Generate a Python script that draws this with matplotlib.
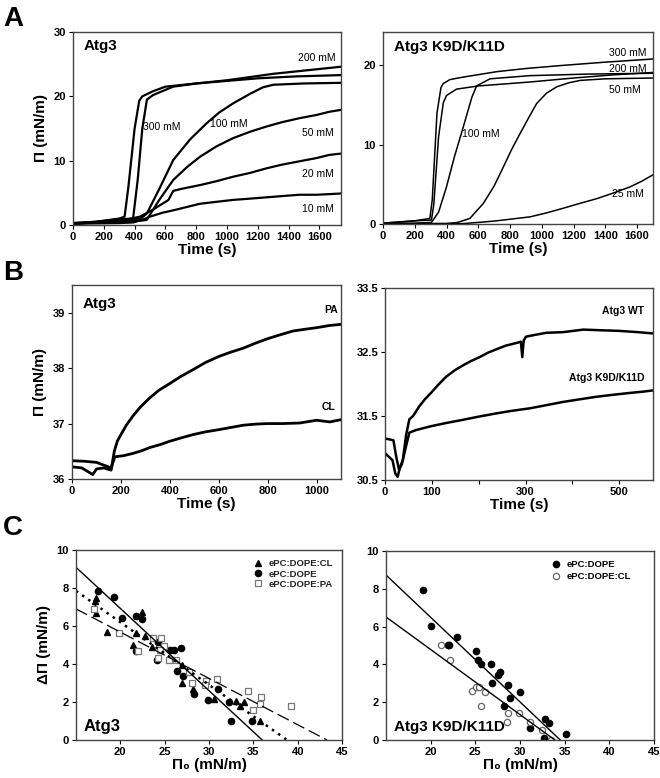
import numpy as np
import matplotlib
matplotlib.use("Agg")
import matplotlib.pyplot as plt

plt.rcParams['font.family'] = ['Liberation Sans', 'DejaVu Sans']
plt.rcParams['font.weight'] = 'bold'
plt.rcParams['axes.labelweight'] = 'bold'
plt.rcParams['axes.edgecolor'] = '#333333'
plt.rcParams['axes.linewidth'] = 1.0
plt.rcParams['xtick.labelsize'] = 8
plt.rcParams['ytick.labelsize'] = 8
plt.rcParams['xtick.major.size'] = 3
plt.rcParams['ytick.major.size'] = 3

# ---------------- Panel A (left): Atg3 ----------------
a1_300_t = [0, 150, 300, 335, 360, 400, 430, 450, 520, 600, 800, 1000, 1200, 1450, 1740]
a1_300_y = [0.3, 0.5, 1.0, 1.3, 6.0, 15.0, 19.3, 20.0, 20.8, 21.5, 22.0, 22.4, 22.8, 23.1, 23.3]
a1_200_t = [0, 150, 300, 390, 420, 450, 480, 520, 650, 800, 1000, 1300, 1500, 1740]
a1_200_y = [0.3, 0.5, 0.9, 1.0, 7.0, 15.0, 19.5, 20.2, 21.5, 22.0, 22.5, 23.5, 24.0, 24.6]
a1_100_t = [0, 300, 440, 480, 560, 651, 760, 867, 950, 1039, 1150, 1233, 1300, 1500, 1740]
a1_100_y = [0.2, 0.7, 1.0, 1.8, 5.6, 10.1, 13.3, 15.8, 17.5, 18.9, 20.4, 21.4, 21.8, 22.0, 22.1]
a1_50_t = [0, 300, 450, 479, 560, 651, 740, 824, 930, 1039, 1150, 1255, 1360, 1470, 1580, 1665, 1740]
a1_50_y = [0.2, 0.6, 0.7, 0.8, 3.9, 7.0, 9.0, 10.6, 12.2, 13.5, 14.5, 15.3, 16.0, 16.6, 17.1, 17.6, 17.9]
a1_20_t = [0, 300, 435, 520, 580, 620, 635, 651, 700, 824, 930, 1039, 1150, 1255, 1360, 1470, 1580, 1665, 1740]
a1_20_y = [0.2, 0.6, 1.3, 2.4, 3.3, 3.9, 4.6, 5.3, 5.6, 6.2, 6.8, 7.5, 8.1, 8.8, 9.4, 9.9, 10.4, 10.9, 11.1]
a1_10_t = [0, 300, 392, 450, 500, 580, 672, 824, 930, 1039, 1150, 1255, 1360, 1470, 1580, 1665, 1740]
a1_10_y = [0.2, 0.3, 0.4, 0.8, 1.3, 1.9, 2.4, 3.3, 3.6, 3.9, 4.1, 4.3, 4.5, 4.7, 4.7, 4.8, 4.9]

a1_labels = ["200 mM", "300 mM", "100 mM", "50 mM", "20 mM", "10 mM"]
a1_label_t = [1460, 455, 890, 1490, 1490, 1490]
a1_label_y = [26.0, 15.2, 15.7, 14.3, 7.9, 2.5]

# ---------------- Panel A (right): Atg3 K9D/K11D ----------------
a2_300_t = [0, 200, 295, 310, 340, 365, 379, 421, 500, 716, 900, 1137, 1400, 1700]
a2_300_y = [0.1, 0.4, 0.7, 3.0, 14.0, 17.2, 17.7, 18.2, 18.5, 19.2, 19.6, 20.0, 20.4, 20.8]
a2_200_t = [0, 200, 305, 320, 350, 380, 400, 463, 600, 926, 1200, 1450, 1700]
a2_200_y = [0.1, 0.4, 0.5, 2.5, 11.0, 15.3, 16.2, 17.0, 17.4, 17.9, 18.4, 18.8, 19.1]
a2_100_t = [0, 200, 305, 350, 400, 450, 505, 560, 589, 674, 800, 926, 1300, 1700]
a2_100_y = [0.05, 0.1, 0.2, 1.5, 4.7, 8.5, 12.2, 16.0, 17.4, 18.3, 18.5, 18.7, 18.9, 19.0]
a2_50_t = [0, 300, 400, 470, 547, 632, 700, 758, 810, 863, 920, 968, 1030, 1095, 1170, 1242, 1400, 1700]
a2_50_y = [0.05, 0.05, 0.05, 0.2, 0.7, 2.6, 4.8, 7.2, 9.4, 11.4, 13.5, 15.2, 16.5, 17.3, 17.8, 18.1, 18.3, 18.4]
a2_25_t = [0, 300, 505, 600, 716, 820, 926, 1030, 1137, 1240, 1347, 1450, 1558, 1630, 1700]
a2_25_y = [0.05, 0.05, 0.05, 0.2, 0.4, 0.65, 0.9, 1.4, 2.0, 2.6, 3.2, 3.9, 4.7, 5.4, 6.2]

a2_labels = ["300 mM", "200 mM", "50 mM", "100 mM", "25 mM"]
a2_label_t = [1420, 1420, 1420, 498, 1445]
a2_label_y = [21.6, 19.5, 16.9, 11.4, 3.8]

# ---------------- Panel B (left): Atg3 PA / CL ----------------
b1_pa_t = [0, 40, 70, 85, 100, 130, 160, 173, 185, 200, 222, 248, 280, 317, 355, 399, 445, 494, 545, 600, 650, 700, 750, 799, 850, 904, 950, 1000, 1054, 1100]
b1_pa_y = [36.22, 36.2, 36.12, 36.08, 36.18, 36.2, 36.16, 36.5, 36.68, 36.8, 36.97, 37.13, 37.3, 37.46, 37.6, 37.72, 37.85, 37.97, 38.1, 38.21, 38.29, 38.36, 38.45, 38.53, 38.6, 38.67, 38.7, 38.73, 38.77, 38.79]
b1_cl_t = [0, 50, 100, 160, 175, 210, 248, 285, 320, 360, 399, 445, 494, 545, 600, 650, 700, 750, 799, 860, 931, 1000, 1054, 1100]
b1_cl_y = [36.33, 36.32, 36.3, 36.2, 36.4, 36.42, 36.46, 36.51, 36.57, 36.62, 36.68, 36.74, 36.8, 36.85, 36.89, 36.93, 36.97, 36.99, 37.0, 37.0, 37.01, 37.06, 37.03, 37.07]
b1_labels = ["PA", "CL"]
b1_label_t = [1030, 1020]
b1_label_y = [39.05, 37.3]

# ---------------- Panel B (right): WT vs K9D/K11D ----------------
b2_wt_t = [0, 16, 22, 27, 32, 38, 45, 52, 60, 73, 85, 98, 114, 130, 148, 166, 184, 202, 220, 237, 258, 280, 290, 293, 296, 301, 322, 344, 380, 423, 460, 500, 540, 572]
b2_wt_y = [30.92, 30.81, 30.6, 30.55, 30.7, 30.81, 31.2, 31.45, 31.5, 31.65, 31.76, 31.86, 31.99, 32.11, 32.21, 32.29, 32.36, 32.42, 32.49, 32.54, 32.6, 32.64, 32.66, 32.42, 32.68, 32.74, 32.77, 32.8, 32.81, 32.85, 32.84, 32.83, 32.81, 32.79]
b2_mut_t = [0, 18, 24, 30, 36, 44, 52, 66, 98, 130, 166, 200, 237, 270, 309, 345, 380, 415, 451, 485, 522, 550, 572]
b2_mut_y = [31.15, 31.12, 30.86, 30.66, 30.75, 31.0, 31.24, 31.28, 31.34, 31.39, 31.44, 31.49, 31.54, 31.58, 31.62, 31.67, 31.72, 31.76, 31.8, 31.83, 31.86, 31.88, 31.9]
b2_labels = ["Atg3 WT", "Atg3 K9D/K11D"]
b2_label_t = [553, 553]
b2_label_y = [33.14, 32.1]

# ---------------- Panel C (left): Atg3 ----------------
c1_cl_x = [17.1, 17.2, 17.3, 18.5, 21.4, 21.8, 22.4, 22.8, 23.6, 27.0, 27.0, 28.2, 30.6, 33.1, 33.9, 33.5, 35.7]
c1_cl_y = [7.3, 7.5, 6.7, 5.67, 5.0, 5.65, 6.72, 5.5, 4.9, 3.93, 3.02, 2.68, 2.17, 2.07, 1.98, 1.79, 1.02]
c1_pe_x = [17.5, 19.3, 20.2, 21.8, 22.4, 21.8, 24.2, 25.6, 26.0, 26.8, 24.1, 26.4, 27.1, 28.3, 29.9, 31.0, 32.3, 32.5, 34.9]
c1_pe_y = [7.84, 7.54, 6.44, 6.53, 6.35, 4.70, 5.14, 4.74, 4.72, 4.82, 4.23, 3.61, 3.39, 2.44, 2.09, 2.68, 2.02, 1.02, 1.02]
c1_pa_x = [17.0, 19.8, 22.0, 23.7, 24.6, 24.2, 24.9, 24.5, 25.5, 26.3, 27.8, 28.1, 29.7, 29.5, 30.9, 34.4, 35.9, 35.8, 35.0, 39.3]
c1_pa_y = [6.9, 5.61, 4.7, 5.39, 5.39, 4.3, 4.93, 4.74, 4.19, 4.21, 3.6, 2.98, 3.1, 2.88, 3.19, 2.6, 2.28, 1.89, 1.56, 1.79]
# fitted lines: value at x=15 and x-intercept
c1_fit_pe = (9.09, 36.0)   # solid
c1_fit_cl = (7.85, 38.8)   # dotted
c1_fit_pa = (6.9, 43.3)    # dashed

# ---------------- Panel C (right): Atg3 K9D/K11D ----------------
c2_pe_x = [19.1, 20.0, 23.0, 21.9, 22.1, 25.1, 25.3, 25.6, 26.7, 27.5, 27.8, 26.9, 28.7, 28.9, 30.0, 28.2, 31.1, 32.8, 33.3, 32.7, 35.2]
c2_pe_y = [7.94, 6.02, 5.44, 5.02, 5.02, 4.72, 4.24, 4.03, 4.03, 3.43, 3.61, 3.01, 2.92, 2.22, 2.52, 1.81, 0.62, 1.11, 0.92, 0.1, 0.32]
c2_cl_x = [21.2, 22.2, 24.6, 25.1, 25.4, 26.1, 25.6, 28.7, 28.5, 29.9, 31.1, 32.5, 33.5]
c2_cl_y = [5.02, 4.23, 2.61, 2.83, 2.83, 2.52, 1.81, 1.43, 0.93, 1.43, 0.93, 0.51, 0.02]
c2_fit_pe = (8.73, 34.5)
c2_fit_cl = (6.51, 33.9)

fig = plt.figure(figsize=(6.6, 7.78), dpi=100)
W, H = 660.0, 778.0


def add_ax(l, r, t, b):
    return fig.add_axes([l / W, 1 - b / H, (r - l) / W, (b - t) / H])


axA1 = add_ax(73, 341, 32, 225)
axA2 = add_ax(383, 653, 32, 224)
axB1 = add_ax(72, 341, 285, 479)
axB2 = add_ax(385, 653, 288, 480)
axC1 = add_ax(76, 342, 550, 740)
axC2 = add_ax(386, 654, 551, 740)

for ax in [axA1, axA2, axB1, axB2, axC1, axC2]:
    ax.tick_params(direction='out', length=3, width=0.8, pad=2)
    for s in ax.spines.values():
        s.set_color('#444444')

lab_kw = dict(fontsize=11, fontweight='bold')

# Panel A left
for t, y in [(a1_300_t, a1_300_y), (a1_200_t, a1_200_y), (a1_100_t, a1_100_y),
             (a1_50_t, a1_50_y), (a1_20_t, a1_20_y), (a1_10_t, a1_10_y)]:
    axA1.plot(t, y, color='black', lw=1.6)
axA1.set_xlim(0, 1740)
axA1.set_ylim(0, 30)
axA1.set_xticks(range(0, 1601, 200))
axA1.set_yticks([0, 10, 20, 30])
for s, tx, ty in zip(a1_labels, a1_label_t, a1_label_y):
    axA1.text(tx, ty, s, fontsize=7.5, fontweight='normal', va='center', ha='left', clip_on=False)
axA1.text(0.04, 0.93, "Atg3", transform=axA1.transAxes, fontsize=11, fontweight='bold', va='center')
axA1.set_xlabel("Time (s)", labelpad=1, **lab_kw)
axA1.set_ylabel("Π (mN/m)", labelpad=4, **lab_kw)

# Panel A right
for t, y in [(a2_300_t, a2_300_y), (a2_200_t, a2_200_y), (a2_100_t, a2_100_y),
             (a2_50_t, a2_50_y), (a2_25_t, a2_25_y)]:
    axA2.plot(t, y, color='black', lw=1.1)
axA2.set_xlim(0, 1700)
axA2.set_ylim(0, 24.2)
axA2.set_xticks(range(0, 1601, 200))
axA2.set_yticks([0, 10, 20])
for s, tx, ty in zip(a2_labels, a2_label_t, a2_label_y):
    axA2.text(tx, ty, s, fontsize=7.5, fontweight='normal', va='center', ha='left')
axA2.text(0.04, 0.92, "Atg3 K9D/K11D", transform=axA2.transAxes, fontsize=11, fontweight='bold', va='center')
axA2.set_xlabel("Time (s)", labelpad=1, **lab_kw)

# Panel B left
axB1.plot(b1_pa_t, b1_pa_y, color='black', lw=2.0)
axB1.plot(b1_cl_t, b1_cl_y, color='black', lw=2.0)
axB1.set_xlim(0, 1100)
axB1.set_ylim(36, 39.5)
axB1.set_xticks(range(0, 1001, 200))
axB1.set_yticks([36, 37, 38, 39])
for s, tx, ty in zip(b1_labels, b1_label_t, b1_label_y):
    axB1.text(tx, ty, s, fontsize=7.5, fontweight='bold', va='center', ha='left')
axB1.text(0.04, 0.9, "Atg3", transform=axB1.transAxes, fontsize=11, fontweight='bold', va='center')
axB1.set_xlabel("Time (s)", labelpad=1, **lab_kw)
axB1.set_ylabel("Π (mN/m)", labelpad=4, **lab_kw)

# Panel B right
axB2.plot(b2_wt_t, b2_wt_y, color='black', lw=1.8)
axB2.plot(b2_mut_t, b2_mut_y, color='black', lw=1.8)
axB2.set_xlim(0, 572)
axB2.set_ylim(30.5, 33.5)
axB2.set_xticks([0, 100, 200, 300, 400, 500])
axB2.set_xticklabels(["0", "100", "", "300", "", "500"])
axB2.set_yticks([30.5, 31.5, 32.5, 33.5])
for s, tx, ty in zip(b2_labels, b2_label_t, b2_label_y):
    axB2.text(tx, ty, s, fontsize=7.5, fontweight='bold', va='center', ha='right')
axB2.set_xlabel("Time (s)", labelpad=1, **lab_kw)

# Panel C left
axC1.plot(c1_cl_x, c1_cl_y, '^', color='black', ms=4.5, label="ePC:DOPE:CL")
axC1.plot(c1_pe_x, c1_pe_y, 'o', color='black', ms=4.5, label="ePC:DOPE")
axC1.plot(c1_pa_x, c1_pa_y, 's', mfc='white', mec='#777777', mew=0.9, ms=5, label="ePC:DOPE:PA")
axC1.plot([15, c1_fit_pe[1]], [c1_fit_pe[0], 0], color='black', lw=1.0, ls='-')
axC1.plot([15, c1_fit_cl[1]], [c1_fit_cl[0], 0], color='black', lw=1.8, ls=(0, (1, 2)))
axC1.plot([15, c1_fit_pa[1]], [c1_fit_pa[0], 0], color='black', lw=0.9, ls=(0, (10, 4)))
axC1.set_xlim(15, 45)
axC1.set_ylim(0, 10)
axC1.set_xticks([20, 25, 30, 35, 40, 45])
axC1.set_yticks([0, 2, 4, 6, 8, 10])
leg = axC1.legend(loc='upper right', frameon=False, fontsize=6.8, handletextpad=0.6,
                  labelspacing=0.12, borderaxespad=0.6, handlelength=1.0)
for txt in leg.get_texts():
    txt.set_color('#222222')
axC1.text(0.03, 0.07, "Atg3", transform=axC1.transAxes, fontsize=12, fontweight='bold', va='center')
axC1.set_xlabel("Π₀ (mN/m)", labelpad=1, **lab_kw)
axC1.set_ylabel("ΔΠ (mN/m)", labelpad=4, **lab_kw)

# Panel C right
axC2.plot(c2_pe_x, c2_pe_y, 'o', color='black', ms=4.5, label="ePC:DOPE")
axC2.plot(c2_cl_x, c2_cl_y, 'o', mfc='white', mec='#666666', mew=0.9, ms=4.5, label="ePC:DOPE:CL")
axC2.plot([15, c2_fit_pe[1]], [c2_fit_pe[0], 0], color='black', lw=1.0)
axC2.plot([15, c2_fit_cl[1]], [c2_fit_cl[0], 0], color='black', lw=1.0)
axC2.set_xlim(15, 45)
axC2.set_ylim(0, 10)
axC2.set_xticks([20, 25, 30, 35, 40, 45])
axC2.set_yticks([0, 2, 4, 6, 8, 10])
leg2 = axC2.legend(loc='upper right', frameon=False, fontsize=6.8, handletextpad=0.6,
                   labelspacing=0.3, borderaxespad=0.6, handlelength=1.0, bbox_to_anchor=(0.95, 1.0))
axC2.text(0.03, 0.07, "Atg3 K9D/K11D", transform=axC2.transAxes, fontsize=11, fontweight='bold', va='center')
axC2.set_xlabel("Π₀ (mN/m)", labelpad=1, **lab_kw)

# Panel letters
fig.text(3 / W, 1 - 19 / H, "A", fontsize=20, fontweight='bold', va='center', ha='left')
fig.text(3 / W, 1 - 273 / H, "B", fontsize=20, fontweight='bold', va='center', ha='left')
fig.text(3 / W, 1 - 528 / H, "C", fontsize=20, fontweight='bold', va='center', ha='left')

fig.savefig("out.png", dpi=100)
